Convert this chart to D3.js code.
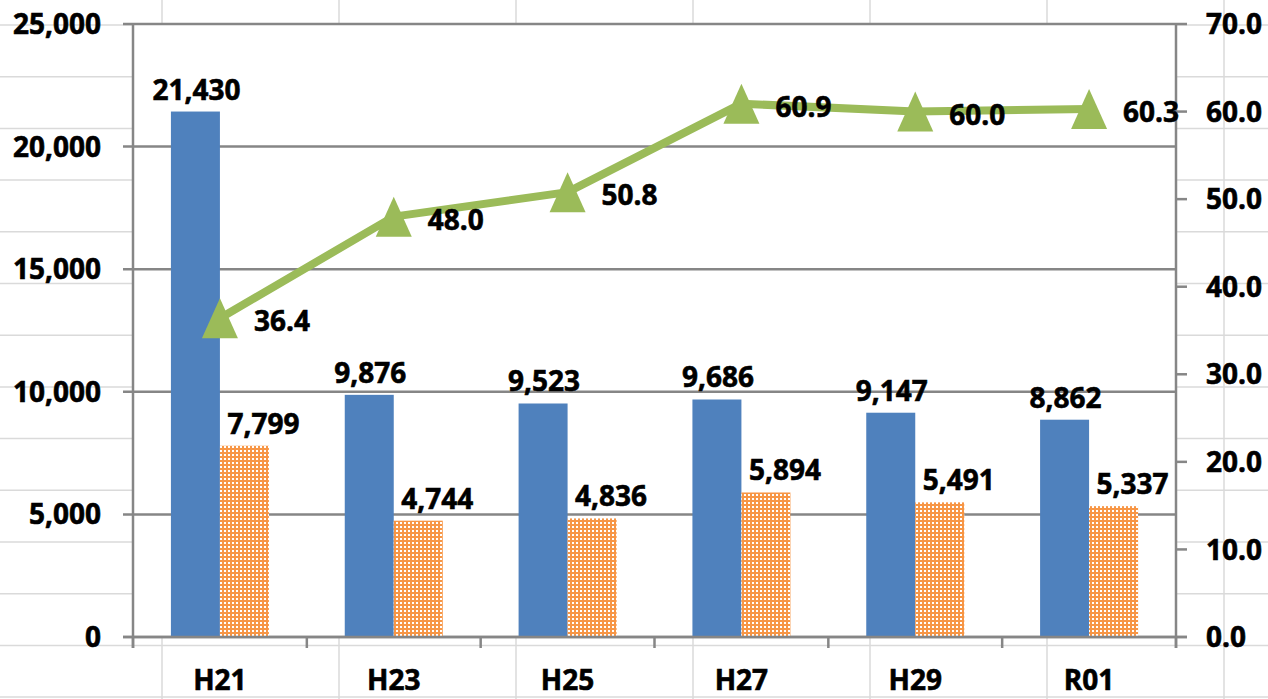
<!DOCTYPE html>
<html>
<head>
<meta charset="utf-8">
<script src="https://cdn.jsdelivr.net/npm/d3@7"></script>
<style>
  html, body { margin: 0; padding: 0; background: #fff; }
  svg text { font-family: "Open Sans", sans-serif; font-weight: 700; fill: #000; stroke: #000; stroke-width: 0.6px; }
</style>
</head>
<body>
<div id="content"></div>
<script>
// data
var categories = ["H21", "H23", "H25", "H27", "H29", "R01"];
var seriesA = [21430, 9876, 9523, 9686, 9147, 8862];   // blue bars
var seriesB = [7799, 4744, 4836, 5894, 5491, 5337];    // orange bars
var rateValues = [36.4, 48.0, 50.8, 60.9, 60.0, 60.3]; // green line (right axis)
var leftTicks = [0, 5000, 10000, 15000, 20000, 25000];
var rightTicks = [0, 10, 20, 30, 40, 50, 60, 70];

var W = 1268, H = 699;
var plot = {left: 133, top: 24, right: 1176, bottom: 637};
var fs = 28;

var svg = d3.select("#content").append("svg")
    .attr("width", W)
    .attr("height", H);

// checker pattern for the orange bars
var defs = svg.append("defs");
var pat = defs.append("pattern")
    .attr("id", "checker")
    .attr("patternUnits", "userSpaceOnUse")
    .attr("width", 4).attr("height", 4);
pat.append("rect").attr("width", 4).attr("height", 4).attr("fill", "#fff");
pat.append("rect").attr("width", 4).attr("height", 2).attr("fill", "#f79646");
pat.append("rect").attr("x", 2).attr("y", 2).attr("width", 2).attr("height", 2).attr("fill", "#f79646");

//Spreadsheet cell grid behind the chart
var sheet = svg.append("g");
d3.range(0, 8).forEach(function(i){
  var x = 162 + i * 177;
  sheet.append("line").attr("x1", x).attr("x2", x).attr("y1", 0).attr("y2", H)
    .attr("stroke", "#dadada").attr("stroke-width", 1.5);
});
d3.range(0, 14).forEach(function(i){
  var y = 25 + i * 51.7;
  sheet.append("line").attr("x1", 0).attr("x2", W).attr("y1", y).attr("y2", y)
    .attr("stroke", "#dadada").attr("stroke-width", 1.5);
});

//White plot area
svg.append("rect")
    .attr("x", plot.left).attr("y", plot.top)
    .attr("width", plot.right - plot.left)
    .attr("height", plot.bottom - plot.top)
    .attr("fill", "#fff");

// scales
var x0 = d3.scaleBand().domain(categories).range([plot.left, plot.right]).padding(0);
var x1 = d3.scaleBand().domain(["a", "b"]).range([0, x0.bandwidth()]).paddingInner(0).paddingOuter(0.774);
var yL = d3.scaleLinear().domain([0, 25000]).range([plot.bottom, plot.top]);
var yR = d3.scaleLinear().domain([0, 70]).range([plot.bottom, plot.top]);

var axisColor = "#868686";

//Horizontal gridlines
svg.append("g").selectAll("line").data(leftTicks).join("line")
    .attr("x1", plot.left - 10).attr("x2", plot.right)
    .attr("y1", function(d){ return yL(d); })
    .attr("y2", function(d){ return yL(d); })
    .attr("stroke", axisColor).attr("stroke-width", 2.5);

// left axis labels
svg.append("g").selectAll("text").data(leftTicks).join("text")
    .attr("x", 101)
    .attr("y", function(d){ return yL(d); })
    .attr("dy", "0.36em")
    .attr("text-anchor", "end")
    .attr("font-size", fs)
    .text(d3.format(","));

// left axis line
svg.append("line")
    .attr("x1", plot.left).attr("x2", plot.left)
    .attr("y1", plot.top).attr("y2", plot.bottom + 11)
    .attr("stroke", axisColor).attr("stroke-width", 2.5);

// right axis line + ticks
svg.append("line")
    .attr("x1", plot.right).attr("x2", plot.right)
    .attr("y1", plot.top).attr("y2", plot.bottom + 11)
    .attr("stroke", axisColor).attr("stroke-width", 2.5);
svg.append("g").selectAll("line").data(rightTicks).join("line")
    .attr("x1", plot.right).attr("x2", plot.right + 11)
    .attr("y1", function(d){ return yR(d); })
    .attr("y2", function(d){ return yR(d); })
    .attr("stroke", axisColor).attr("stroke-width", 2.5);
svg.append("g").selectAll("text").data(rightTicks).join("text")
    .attr("x", 1206)
    .attr("y", function(d){ return yR(d); })
    .attr("dy", "0.36em")
    .attr("font-size", fs)
    .text(d3.format(".1f"));

// category tick marks
var bounds = categories.map(function(c){ return x0(c); }).concat([plot.right]);
svg.append("g").selectAll("line").data(bounds).join("line")
    .attr("x1", function(d){ return d; }).attr("x2", function(d){ return d; })
    .attr("y1", plot.bottom).attr("y2", plot.bottom + 11)
    .attr("stroke", axisColor).attr("stroke-width", 2.5);

// category labels
svg.append("g").selectAll("text").data(categories).join("text")
    .attr("x", function(d){ return x0(d) + x0.bandwidth() / 2; })
    .attr("y", 690)
    .attr("text-anchor", "middle")
    .attr("font-size", fs)
    .text(function(d){ return d; });

//Bars
svg.append("g").selectAll("rect").data(seriesA).join("rect")
    .attr("x", function(d, i){ return x0(categories[i]) + x1("a"); })
    .attr("y", function(d){ return yL(d); })
    .attr("width", x1.bandwidth())
    .attr("height", function(d){ return plot.bottom - yL(d); })
    .attr("fill", "#4f81bd");

svg.append("g").selectAll("rect").data(seriesB).join("rect")
    .attr("x", function(d, i){ return x0(categories[i]) + x1("b"); })
    .attr("y", function(d){ return yL(d); })
    .attr("width", x1.bandwidth())
    .attr("height", function(d){ return plot.bottom - yL(d); })
    .attr("fill", "url(#checker)");

// x axis baseline on top of bars
svg.append("line")
    .attr("x1", plot.left - 10).attr("x2", plot.right + 11)
    .attr("y1", plot.bottom).attr("y2", plot.bottom)
    .attr("stroke", axisColor).attr("stroke-width", 2.5);

// bar labels
svg.append("g").selectAll("text").data(seriesA).join("text")
    .attr("x", function(d, i){ return x0(categories[i]) + x1("a") + x1.bandwidth() / 2 + 1; })
    .attr("y", function(d){ return yL(d) - 12; })
    .attr("text-anchor", "middle")
    .attr("font-size", fs)
    .text(d3.format(","));

svg.append("g").selectAll("text").data(seriesB).join("text")
    .attr("x", function(d, i){ return x0(categories[i]) + x1("b") + x1.bandwidth() / 2 + 19; })
    .attr("y", function(d){ return yL(d) - 12; })
    .attr("text-anchor", "middle")
    .attr("font-size", fs)
    .text(d3.format(","));

//Line series
var cx = function(d, i){ return x0(categories[i]) + x0.bandwidth() / 2; };
var line = d3.line()
    .x(cx)
    .y(function(d){ return yR(d); });

svg.append("path")
    .datum(rateValues)
    .attr("d", line)
    .attr("fill", "none")
    .attr("stroke", "#9bbb59")
    .attr("stroke-width", 8)
    .attr("stroke-linejoin", "round");

// tall triangle marker
var tallTriangle = {
  draw: function(context, size){
    var w = 18, h = 20;
    context.moveTo(0, -h);
    context.lineTo(w, h);
    context.lineTo(-w, h);
    context.closePath();
  }
};
svg.append("g").selectAll("path").data(rateValues).join("path")
    .attr("transform", function(d, i){ return "translate(" + cx(d, i) + "," + yR(d) + ")"; })
    .attr("d", d3.symbol().type(tallTriangle))
    .attr("fill", "#9bbb59");

svg.append("g").selectAll("text").data(rateValues).join("text")
    .attr("x", function(d, i){ return cx(d, i) + 34; })
    .attr("y", function(d){ return yR(d) + 3; })
    .attr("dy", "0.36em")
    .attr("font-size", fs)
    .text(d3.format(".1f"));
</script>
</body>
</html>
